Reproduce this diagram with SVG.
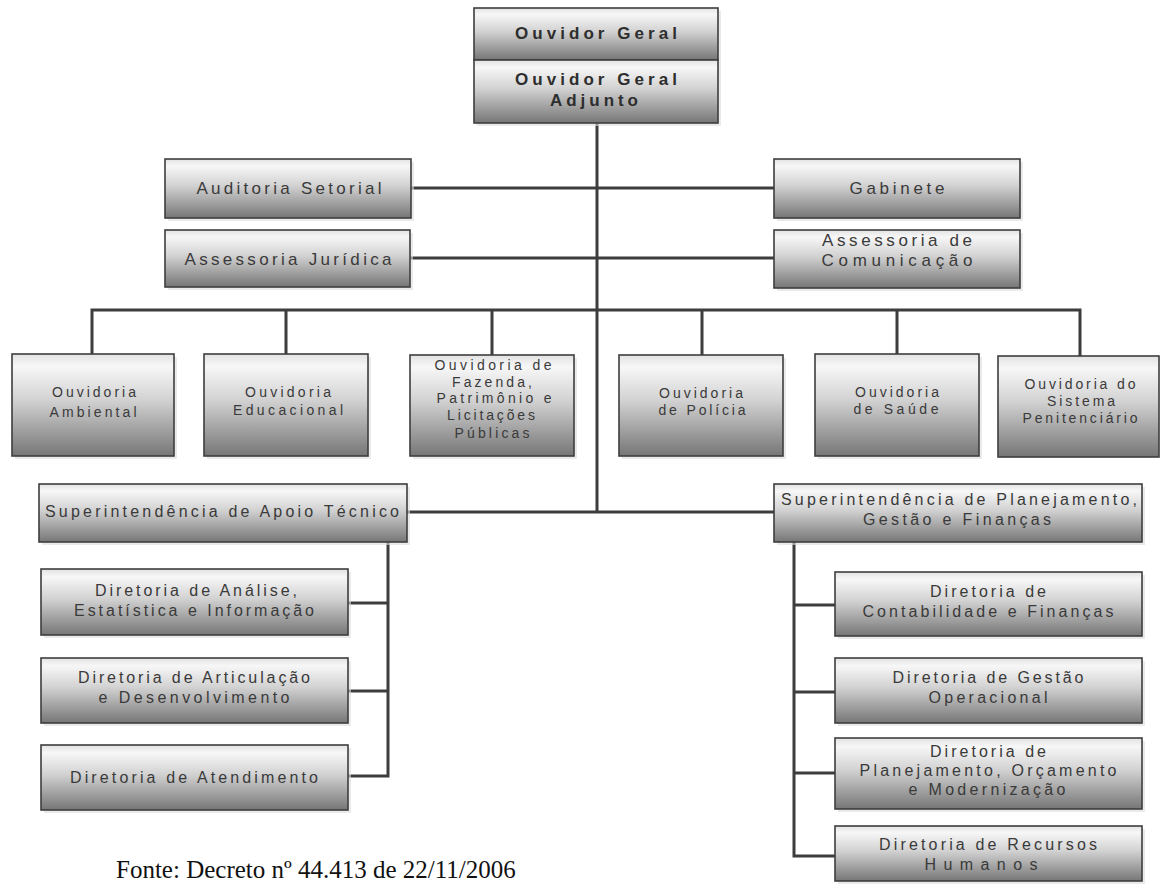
<svg xmlns="http://www.w3.org/2000/svg" width="1160" height="887" viewBox="0 0 1160 887">
<defs>
<linearGradient id="g" x1="0" y1="0" x2="0" y2="1">
<stop offset="0" stop-color="#e2e2e2"/>
<stop offset="0.12" stop-color="#f7f7f7"/>
<stop offset="0.45" stop-color="#d2d2d2"/>
<stop offset="1" stop-color="#767676"/>
</linearGradient>
<style>
.b{fill:url(#g);stroke:#3e3e3e;stroke-width:1.6}
.s{fill:#dcdcdc;opacity:.6}
.c{fill:none;stroke:#3d3d3d;stroke-width:3}
text{font-family:"Liberation Sans",Arial,sans-serif;fill:#3a3a3a;text-anchor:middle}
.t16{font-size:17px}
.t15{font-size:16px}
.t13{font-size:14px}
.bd{font-size:17px;font-weight:bold;fill:#2e2e2e}
.f{font-family:"Liberation Serif","Times New Roman",serif;font-size:25px;fill:#111;text-anchor:start}
</style>
</defs>
<rect width="1160" height="887" fill="#fff"/>

<g id="connectors">
<path class="c" d="M597 123V512"/>
<path class="c" d="M411 188H774"/>
<path class="c" d="M410 258H774"/>
<path class="c" d="M92 354V310H1080V356M286 310V354M492 310V355M702 310V355M897 310V354"/>
<path class="c" d="M407 512H774"/>
<path class="c" d="M388 542V776H348M348 603H388M348 691H388"/>
<path class="c" d="M794 542V856H835M794 605H835M794 692H835M794 773H835"/>
</g>

<g id="ouvidor-geral">
<rect class="s" x="477" y="11" width="244" height="52"/>
<rect class="b" x="474" y="8" width="244" height="52"/>
<text class="bd" x="596" y="39" textLength="162">Ouvidor Geral</text>
</g>
<g id="ouvidor-geral-adjunto">
<rect class="s" x="477" y="63" width="244" height="63"/>
<rect class="b" x="474" y="60" width="244" height="63"/>
<text class="bd" x="596" y="85" textLength="162">Ouvidor Geral</text>
<text class="bd" x="594" y="106" textLength="88">Adjunto</text>
</g>

<g id="auditoria-setorial">
<rect class="s" x="168" y="162" width="246" height="59"/>
<rect class="b" x="165" y="159" width="246" height="59"/>
<text class="t16" x="289" y="194" textLength="185">Auditoria Setorial</text>
</g>
<g id="assessoria-juridica">
<rect class="s" x="168" y="233" width="245" height="57"/>
<rect class="b" x="165" y="230" width="245" height="57"/>
<text class="t16" x="288" y="265" textLength="207">Assessoria Jurídica</text>
</g>
<g id="gabinete">
<rect class="s" x="777" y="162" width="246" height="59"/>
<rect class="b" x="774" y="159" width="246" height="59"/>
<text class="t16" x="897" y="194" textLength="95">Gabinete</text>
</g>
<g id="assessoria-comunicacao">
<rect class="s" x="777" y="233" width="246" height="58"/>
<rect class="b" x="774" y="230" width="246" height="58"/>
<text class="t16" x="897" y="246" textLength="150">Assessoria de</text>
<text class="t16" x="897" y="266" textLength="151">Comunicação</text>
</g>

<g id="ouvidoria-ambiental">
<rect class="s" x="15" y="357" width="162" height="102"/>
<rect class="b" x="12" y="354" width="162" height="102"/>
<text class="t13" x="94" y="397" textLength="84">Ouvidoria</text>
<text class="t13" x="93" y="417" textLength="87">Ambiental</text>
</g>
<g id="ouvidoria-educacional">
<rect class="s" x="207" y="357" width="164" height="102"/>
<rect class="b" x="204" y="354" width="164" height="102"/>
<text class="t13" x="288" y="397" textLength="86">Ouvidoria</text>
<text class="t13" x="288" y="415" textLength="110">Educacional</text>
</g>
<g id="ouvidoria-fazenda">
<rect class="s" x="413" y="358" width="164" height="101"/>
<rect class="b" x="410" y="355" width="164" height="101"/>
<text class="t13" x="493" y="370" textLength="117">Ouvidoria de</text>
<text class="t13" x="492" y="387" textLength="80">Fazenda,</text>
<text class="t13" x="494" y="403" textLength="115">Patrimônio e</text>
<text class="t13" x="491" y="420" textLength="88">Licitações</text>
<text class="t13" x="492" y="438" textLength="75">Públicas</text>
</g>
<g id="ouvidoria-policia">
<rect class="s" x="622" y="358" width="164" height="101"/>
<rect class="b" x="619" y="355" width="164" height="101"/>
<text class="t13" x="701" y="398" textLength="84">Ouvidoria</text>
<text class="t13" x="702" y="415" textLength="87">de Polícia</text>
</g>
<g id="ouvidoria-saude">
<rect class="s" x="818" y="357" width="164" height="102"/>
<rect class="b" x="815" y="354" width="164" height="102"/>
<text class="t13" x="897" y="397" textLength="84">Ouvidoria</text>
<text class="t13" x="896" y="414" textLength="85">de Saúde</text>
</g>
<g id="ouvidoria-penitenciario">
<rect class="b" x="998" y="356" width="161" height="101"/>
<text class="t13" x="1080" y="389" textLength="111">Ouvidoria do</text>
<text class="t13" x="1081" y="406" textLength="68">Sistema</text>
<text class="t13" x="1080" y="423" textLength="115">Penitenciário</text>
</g>

<g id="sup-apoio-tecnico">
<rect class="s" x="42" y="487" width="368" height="58"/>
<rect class="b" x="39" y="484" width="368" height="58"/>
<text class="t15" x="222" y="517" textLength="354">Superintendência de Apoio Técnico</text>
</g>
<g id="dir-analise">
<rect class="s" x="44" y="572" width="307" height="66"/>
<rect class="b" x="41" y="569" width="307" height="66"/>
<text class="t15" x="196" y="596" textLength="202">Diretoria de Análise,</text>
<text class="t15" x="194" y="616" textLength="240">Estatística e Informação</text>
</g>
<g id="dir-articulacao">
<rect class="s" x="44" y="661" width="307" height="65"/>
<rect class="b" x="41" y="658" width="307" height="65"/>
<text class="t15" x="194" y="683" textLength="232">Diretoria de Articulação</text>
<text class="t15" x="194" y="703" textLength="191">e Desenvolvimento</text>
</g>
<g id="dir-atendimento">
<rect class="s" x="44" y="748" width="307" height="65"/>
<rect class="b" x="41" y="745" width="307" height="65"/>
<text class="t15" x="194" y="783" textLength="248">Diretoria de Atendimento</text>
</g>

<g id="sup-planejamento">
<rect class="s" x="777" y="487" width="368" height="58"/>
<rect class="b" x="774" y="484" width="368" height="58"/>
<text class="t15" x="959" y="505" textLength="356">Superintendência de Planejamento,</text>
<text class="t15" x="957" y="525" textLength="188">Gestão e Finanças</text>
</g>
<g id="dir-contabilidade">
<rect class="s" x="838" y="575" width="307" height="64"/>
<rect class="b" x="835" y="572" width="307" height="64"/>
<text class="t15" x="988" y="597" textLength="116">Diretoria de</text>
<text class="t15" x="988" y="617" textLength="251">Contabilidade e Finanças</text>
</g>
<g id="dir-gestao-operacional">
<rect class="s" x="838" y="661" width="307" height="65"/>
<rect class="b" x="835" y="658" width="307" height="65"/>
<text class="t15" x="988" y="683" textLength="191">Diretoria de Gestão</text>
<text class="t15" x="988" y="703" textLength="119">Operacional</text>
</g>
<g id="dir-planejamento">
<rect class="s" x="838" y="741" width="307" height="71"/>
<rect class="b" x="835" y="738" width="307" height="71"/>
<text class="t15" x="988" y="757" textLength="116">Diretoria de</text>
<text class="t15" x="988" y="776" textLength="257">Planejamento, Orçamento</text>
<text class="t15" x="987" y="795" textLength="157">e Modernização</text>
</g>
<g id="dir-recursos-humanos">
<rect class="s" x="838" y="829" width="307" height="55"/>
<rect class="b" x="835" y="826" width="307" height="55"/>
<text class="t15" x="988" y="850" textLength="218">Diretoria de Recursos</text>
<text class="t15" x="981" y="870" textLength="113">Humanos</text>
</g>

<text class="f" x="116" y="878">Fonte: Decreto nº 44.413 de 22/11/2006</text>
</svg>
